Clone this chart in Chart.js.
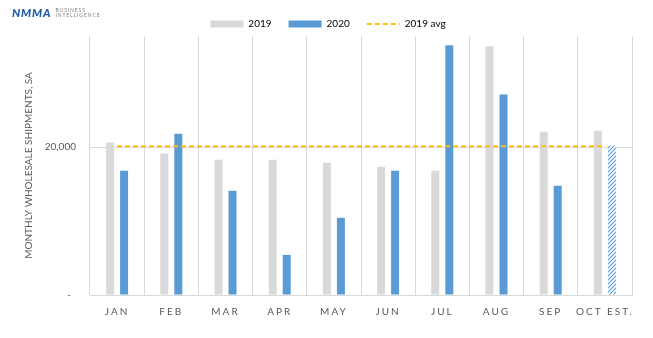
<!DOCTYPE html>
<html>
<head>
<meta charset="utf-8">
<script src="https://cdn.jsdelivr.net/npm/chart.js@4.4.0/dist/chart.umd.min.js"></script>
<style>
  html, body { margin: 0; padding: 0; background: #fff; }
  #wrap { position: relative; width: 653px; height: 338px; }
  #brand { position: absolute; left: 12px; top: 6px; display: flex; align-items: center; font-family: Lato, sans-serif; }
  #brand .mark { font-size: 11.5px; font-weight: 900; font-style: italic; letter-spacing: 0.8px; color: #1d5ba9; }
  #brand .sub { margin-left: 4px; font-size: 5px; line-height: 5px; letter-spacing: 0.9px; color: #7f7f7f; }
</style>
</head>
<body>
<div id="wrap">
  <canvas id="shipments" width="653" height="338"></canvas>
  <div id="brand"><span class="mark">NMMA</span><span class="sub">BUSINESS<br>INTELLIGENCE</span></div>
</div>
<script>
"use strict"

const months = ['JAN', 'FEB', 'MAR', 'APR', 'MAY', 'JUN', 'JUL', 'AUG', 'SEP', 'OCT EST.'];
const units2019 = [20620, 19130, 18280, 18280, 17870, 17330, 16790, 33620, 22070, 22200];
const units2020 = [16790, 21800, 14080, 5420, 10430, 16790, 33750, 27080, 14760, 20210];
const avg2019 = [20100, 20100, 20100, 20100, 20100, 20100, 20100, 20100, 20100, 20100];
const yTicks = [0, 20000];
const yMax = 35000;

const GREY = '#d9d9d9';
const BLUE = '#5b9bd5';
const GOLD = '#ffc000';
const TEXT = '#595959';
const FONT = 'Lato, sans-serif';

// diagonal stripes for the estimated month
const makeHatch = () => {
    const c = document.createElement('canvas');
    c.width = 4;
    c.height = 4;
    const g = c.getContext('2d');
    g.fillStyle = '#fff';
    g.fillRect(0, 0, 4, 4);
    g.strokeStyle = BLUE;
    g.lineWidth = 1.2;
    g.beginPath();
    g.moveTo(-1, 5); g.lineTo(5, -1);
    g.moveTo(-1, 1); g.lineTo(1, -1);
    g.moveTo(3, 5); g.lineTo(5, 3);
    g.stroke();
    return g.createPattern(c, 'repeat');
}
const hatch = makeHatch();
const colors2020 = months.map((m, i) => i === months.length - 1 ? hatch : BLUE);

// small layout fixes: legend height/offset, spaced month labels
const tweaks = {
    id: 'tweaks',
    afterInit(chart) {
        const fit = chart.legend.fit;
        chart.legend.fit = function () {
            fit.call(this);
            this.height = 34;
        };
    },
    afterLayout(chart) {
        chart.legend.left = 24;
    },
    beforeDraw(chart) {
        const x = chart.scales.x;
        if (x._spaced) return;
        const draw = x.drawLabels;
        x.drawLabels = function (area) {
            this.ctx.save();
            this.ctx.letterSpacing = '2px';
            draw.call(this, area);
            this.ctx.restore();
        };
        x._spaced = true;
    }
};

const ctx = document.getElementById('shipments').getContext('2d');
new Chart(ctx, {
    type: 'bar',
    data: {
        labels: months,
        datasets: [
            {
                label: '2019',
                data: units2019,
                backgroundColor: GREY,
                categoryPercentage: 0.517,
                barPercentage: 0.571,
                order: 1
            },
            {
                label: '2020',
                data: units2020,
                backgroundColor: colors2020,
                categoryPercentage: 0.517,
                barPercentage: 0.571,
                order: 1
            },
            {
                type: 'line',
                label: '2019 avg',
                data: avg2019,
                borderColor: GOLD,
                borderWidth: 2,
                borderDash: [5, 3],
                pointRadius: 0,
                fill: false,
                order: 0
            }
        ]
    },
    options: {
        responsive: false,
        animation: false,
        layout: { padding: { top: 2, right: 21, bottom: 0, left: 0 } },
        plugins: {
            tooltip: { enabled: false },
            legend: {
                position: 'top',
                labels: {
                    font: { family: FONT, size: 10 },
                    color: TEXT,
                    padding: 17,
                    usePointStyle: true,
                    pointStyleWidth: 33,
                    boxHeight: 7,
                    generateLabels: (chart) => [
                        { text: '2019', fillStyle: GREY, strokeStyle: GREY, lineWidth: 0, pointStyle: 'rect', datasetIndex: 0 },
                        { text: '2020', fillStyle: BLUE, strokeStyle: BLUE, lineWidth: 0, pointStyle: 'rect', datasetIndex: 1 },
                        { text: '2019 avg', fillStyle: GOLD, strokeStyle: GOLD, lineWidth: 2, lineDash: [5, 3], pointStyle: 'line', datasetIndex: 2 }
                    ]
                }
            }
        },
        scales: {
            x: {
                grid: { color: GREY, drawTicks: false, offset: true },
                border: { color: GREY },
                ticks: { font: { family: FONT, size: 10 }, color: TEXT, padding: 11, maxRotation: 0, autoSkip: false },
                afterFit: (s) => { s.height = 43; }
            },
            y: {
                min: 0,
                max: yMax,
                afterBuildTicks: (s) => { s.ticks = yTicks.map(v => ({ value: v })); },
                grid: { color: GREY, drawTicks: false },
                border: { display: false },
                ticks: {
                    font: { family: FONT, size: 10 },
                    color: TEXT,
                    padding: 14,
                    callback: (v) => v === 0 ? '-  ' : v.toLocaleString('en-US')
                },
                title: {
                    display: true,
                    text: 'MONTHLY WHOLESALE SHIPMENTS, SA',
                    font: { family: FONT, size: 10 },
                    color: TEXT,
                    padding: { top: 23, bottom: 0 }
                },
                afterFit: (s) => { s.width = 90; }
            }
        }
    },
    plugins: [tweaks]
});
</script>
</body>
</html>
